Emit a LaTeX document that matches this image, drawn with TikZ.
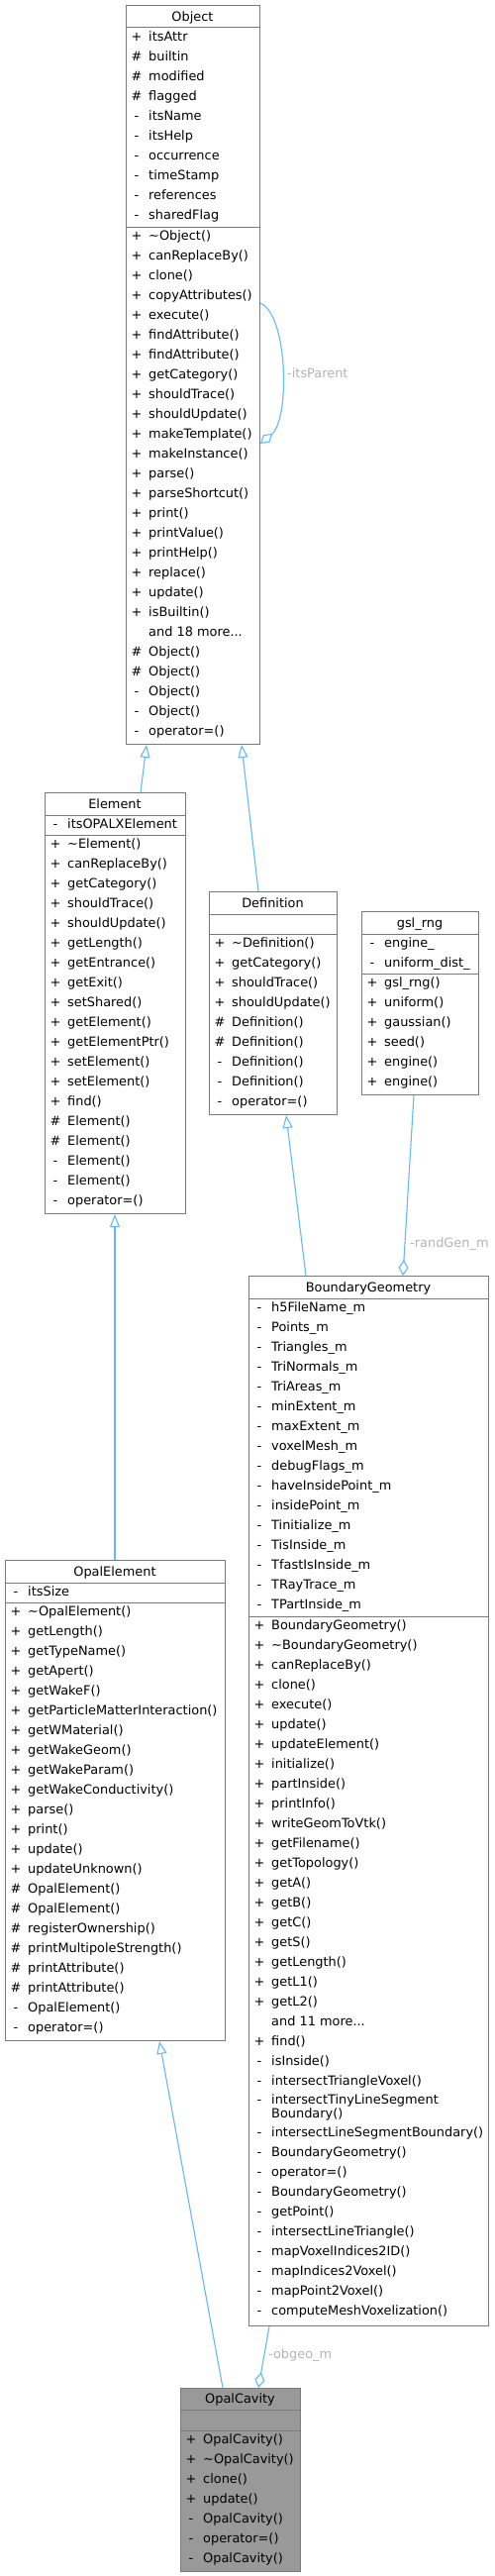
\documentclass[tikz,border=0pt]{standalone}
\usepackage{fontspec}
\setmainfont{DejaVu Sans}
\usetikzlibrary{arrows.meta,calc}
\definecolor{edgeblue}{HTML}{63B8FF}
\definecolor{boxline}{HTML}{7A7A7A}
\definecolor{lblgray}{HTML}{B4B4B4}
\definecolor{focusfill}{HTML}{999999}
\newcommand\umlfont{\fontsize{12.9}{15}\selectfont}
\tikzset{
  cls/.style={draw=boxline, line width=1pt, fill=white, rectangle, inner sep=0pt, anchor=north west},
  sepline/.style={draw=boxline, line width=1pt},
  symtxt/.style={anchor=base, inner sep=0pt, font=\umlfont},
  nametxt/.style={anchor=base west, inner sep=0pt, font=\umlfont},
  titletxt/.style={anchor=base, inner sep=0pt, font=\umlfont},
  lbl/.style={anchor=west, inner sep=0pt, text=lblgray, font=\umlfont},
  inh/.style={draw=edgeblue, line width=1.1pt, -{Triangle[open, length=13pt, width=10pt, fill=white]}},
  agg/.style={draw=edgeblue, line width=1.1pt, -{Diamond[open, length=16pt, width=10pt, fill=white]}},
}
% #1 prefix, #2 left x, #3 first baseline y, #4 list sym/name
\newcommand\mlist[4]{%
  \foreach [count=\i from 0] \vs/\vt in {#4} {
    \node[symtxt] (#1s\i) at (#2+11, #3+20*\i) {\vs};
    \node[nametxt] (#1n\i) at (#2+23, #3+20*\i) {\vt};
  }}
\begin{document}
\begin{tikzpicture}[x=1pt,y=-1pt]
\fill[white] (0,0) rectangle (500,2601);
\useasboundingbox (0,0) rectangle (500,2601);

% ---------------- Object
\node[cls, minimum width=135pt, minimum height=746pt] (obj) at (127,5) {};
\draw[sepline] (obj.west |- 0,28) -- (obj.east |- 0,28);
\draw[sepline] (obj.west |- 0,229) -- (obj.east |- 0,229);
\node[titletxt] (objt) at (194.5,21.2) {Object};
\mlist{oa}{127}{42}{{+}/{itsAttr},{\#}/{builtin},{\#}/{modified},{\#}/{flagged},{-}/{itsName},{-}/{itsHelp},{-}/{occurrence},{-}/{timeStamp},{-}/{references},{-}/{sharedFlag}}
\mlist{om}{127}{242}{{+}/{\textasciitilde Object()},{+}/{canReplaceBy()},{+}/{clone()},{+}/{copyAttributes()},{+}/{execute()},{+}/{findAttribute()},{+}/{findAttribute()},{+}/{getCategory()},{+}/{shouldTrace()},{+}/{shouldUpdate()},{+}/{makeTemplate()},{+}/{makeInstance()},{+}/{parse()},{+}/{parseShortcut()},{+}/{print()},{+}/{printValue()},{+}/{printHelp()},{+}/{replace()},{+}/{update()},{+}/{isBuiltin()},{}/{and 18 more...},{\#}/{Object()},{\#}/{Object()},{-}/{Object()},{-}/{Object()},{-}/{operator=()}}

% ---------------- Element
\node[cls, minimum width=142pt, minimum height=425pt] (el) at (45,800) {};
\draw[sepline] (el.west |- 0,823) -- (el.east |- 0,823);
\draw[sepline] (el.west |- 0,843) -- (el.east |- 0,843);
\node[titletxt] (elt) at (116,816.2) {Element};
\mlist{ea}{45}{836.5}{{-}/{itsOPALXElement}}
\mlist{em}{45}{856}{{+}/{\textasciitilde Element()},{+}/{canReplaceBy()},{+}/{getCategory()},{+}/{shouldTrace()},{+}/{shouldUpdate()},{+}/{getLength()},{+}/{getEntrance()},{+}/{getExit()},{+}/{setShared()},{+}/{getElement()},{+}/{getElementPtr()},{+}/{setElement()},{+}/{setElement()},{+}/{find()},{\#}/{Element()},{\#}/{Element()},{-}/{Element()},{-}/{Element()},{-}/{operator=()}}

% ---------------- Definition
\node[cls, minimum width=129pt, minimum height=225pt] (def) at (211,900) {};
\draw[sepline] (def.west |- 0,923) -- (def.east |- 0,923);
\draw[sepline] (def.west |- 0,943) -- (def.east |- 0,943);
\node[titletxt] (deft) at (275.5,916.2) {Definition};
\mlist{dm}{211}{956}{{+}/{\textasciitilde Definition()},{+}/{getCategory()},{+}/{shouldTrace()},{+}/{shouldUpdate()},{\#}/{Definition()},{\#}/{Definition()},{-}/{Definition()},{-}/{Definition()},{-}/{operator=()}}

% ---------------- gsl_rng
\node[cls, minimum width=118pt, minimum height=185pt] (gsl) at (365,920) {};
\draw[sepline] (gsl.west |- 0,943) -- (gsl.east |- 0,943);
\draw[sepline] (gsl.west |- 0,983) -- (gsl.east |- 0,983);
\node[titletxt] (gslt) at (424,936.2) {gsl\_rng};
\mlist{ga}{365}{956.5}{{-}/{engine\_},{-}/{uniform\_dist\_}}
\mlist{gm}{365}{996}{{+}/{gsl\_rng()},{+}/{uniform()},{+}/{gaussian()},{+}/{seed()},{+}/{engine()},{+}/{engine()}}

% ---------------- BoundaryGeometry
\node[cls, minimum width=242pt, minimum height=1060pt] (bg) at (251,1288) {};
\draw[sepline] (bg.west |- 0,1311) -- (bg.east |- 0,1311);
\draw[sepline] (bg.west |- 0,1632) -- (bg.east |- 0,1632);
\node[titletxt] (bgt) at (372,1304.2) {BoundaryGeometry};
\mlist{ba}{251}{1324.5}{{-}/{h5FileName\_m},{-}/{Points\_m},{-}/{Triangles\_m},{-}/{TriNormals\_m},{-}/{TriAreas\_m},{-}/{minExtent\_m},{-}/{maxExtent\_m},{-}/{voxelMesh\_m},{-}/{debugFlags\_m},{-}/{haveInsidePoint\_m},{-}/{insidePoint\_m},{-}/{Tinitialize\_m},{-}/{TisInside\_m},{-}/{TfastIsInside\_m},{-}/{TRayTrace\_m},{-}/{TPartInside\_m}}
\mlist{bm}{251}{1645}{{+}/{BoundaryGeometry()},{+}/{\textasciitilde BoundaryGeometry()},{+}/{canReplaceBy()},{+}/{clone()},{+}/{execute()},{+}/{update()},{+}/{updateElement()},{+}/{initialize()},{+}/{partInside()},{+}/{printInfo()},{+}/{writeGeomToVtk()},{+}/{getFilename()},{+}/{getTopology()},{+}/{getA()},{+}/{getB()},{+}/{getC()},{+}/{getS()},{+}/{getLength()},{+}/{getL1()},{+}/{getL2()},{}/{and 11 more...},{+}/{find()},{-}/{isInside()},{-}/{intersectTriangleVoxel()}}
\node[symtxt] (bxs) at (262,2124) {-};
\node[nametxt] (bxn1) at (274,2124) {intersectTinyLineSegment};
\node[nametxt] (bxn2) at (274,2138) {Boundary()};
\mlist{bq}{251}{2157}{{-}/{intersectLineSegmentBoundary()},{-}/{BoundaryGeometry()},{-}/{operator=()},{-}/{BoundaryGeometry()},{-}/{getPoint()},{-}/{intersectLineTriangle()},{-}/{mapVoxelIndices2ID()},{-}/{mapIndices2Voxel()},{-}/{mapPoint2Voxel()},{-}/{computeMeshVoxelization()}}

% ---------------- OpalElement
\node[cls, minimum width=222pt, minimum height=485pt] (oe) at (5,1575) {};
\draw[sepline] (oe.west |- 0,1598) -- (oe.east |- 0,1598);
\draw[sepline] (oe.west |- 0,1618) -- (oe.east |- 0,1618);
\node[titletxt] (oet) at (116,1591.2) {OpalElement};
\mlist{pa}{5}{1611}{{-}/{itsSize}}
\mlist{pm}{5}{1631}{{+}/{\textasciitilde OpalElement()},{+}/{getLength()},{+}/{getTypeName()},{+}/{getApert()},{+}/{getWakeF()},{+}/{getParticleMatterInteraction()},{+}/{getWMaterial()},{+}/{getWakeGeom()},{+}/{getWakeParam()},{+}/{getWakeConductivity()},{+}/{parse()},{+}/{print()},{+}/{update()},{+}/{updateUnknown()},{\#}/{OpalElement()},{\#}/{OpalElement()},{\#}/{registerOwnership()},{\#}/{printMultipoleStrength()},{\#}/{printAttribute()},{\#}/{printAttribute()},{-}/{OpalElement()},{-}/{operator=()}}

% ---------------- OpalCavity
\node[cls, fill=focusfill, minimum width=121pt, minimum height=185pt] (oc) at (182,2411) {};
\draw[sepline] (oc.west |- 0,2433) -- (oc.east |- 0,2433);
\draw[sepline] (oc.west |- 0,2454) -- (oc.east |- 0,2454);
\node[titletxt] (oct) at (242.5,2426.7) {OpalCavity};
\mlist{cm}{182}{2467}{{+}/{OpalCavity()},{+}/{\textasciitilde OpalCavity()},{+}/{clone()},{+}/{update()},{-}/{OpalCavity()},{-}/{operator=()},{-}/{OpalCavity()}}

% ---------------- connectors
\draw[inh] ($(el.north west)+(97,0)$) -- ($(obj.south west)+(21,0)$);
\draw[inh] ($(def.north west)+(50,0)$) -- ($(obj.south west)+(117,0)$);
\draw[agg] ($(obj.north east)+(0,301)$) .. controls ($(obj.north east)+(28,313)$) and ($(obj.north east)+(30,418)$) .. ($(obj.north east)+(0,443)$);
\node[lbl] (lparent) at (290,377) {-itsParent};
\draw[inh] ($(oe.north west)+(111,0)$) -- ($(el.south west)+(71,0)$);
\draw[inh] ($(bg.north west)+(58,0)$) -- ($(def.south west)+(78,0)$);
\draw[agg] ($(gsl.south west)+(53,0)$) -- ($(bg.north west)+(156,0)$);
\node[lbl] (lrand) at (414,1256) {-randGen\_m};
\draw[inh] ($(oc.north west)+(43,0)$) -- ($(oe.south west)+(156,0)$);
\draw[agg] ($(bg.south west)+(21,0)$) -- ($(oc.north west)+(79,0)$);
\node[lbl] (lobgeo) at (271,2378) {-obgeo\_m};
\end{tikzpicture}
\end{document}
